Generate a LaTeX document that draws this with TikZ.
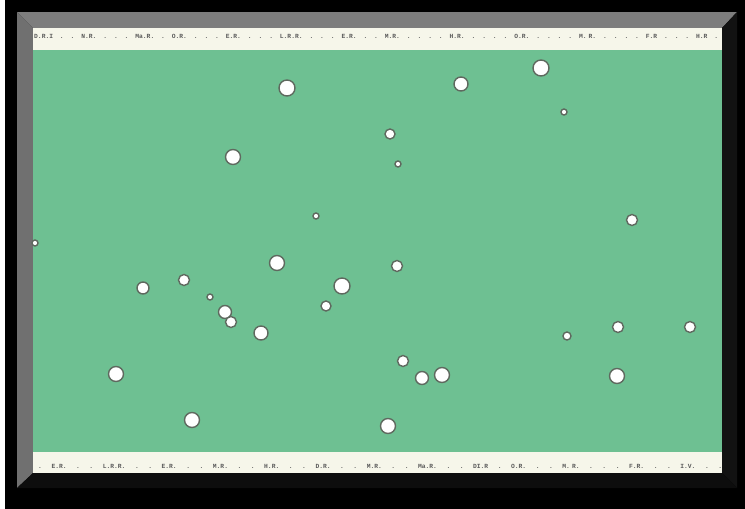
\documentclass[tikz,border=0pt]{standalone}
\usepackage{fontspec}
\setmonofont{Liberation Mono}
\definecolor{fieldgreen}{RGB}{110,192,146}
\definecolor{stripcream}{RGB}{246,246,234}
\definecolor{bevellight}{RGB}{125,125,125}
\definecolor{bevelleft}{RGB}{112,112,112}
\definecolor{beveldark}{RGB}{18,18,18}
\definecolor{txtgrey}{RGB}{90,90,90}
\definecolor{ringgrey}{RGB}{95,105,95}
\tikzset{
  hole/.style={circle, fill=white, draw=ringgrey, line width=1.4pt, inner sep=0pt},
  striplabel/.style={font=\ttfamily\bfseries\fontsize{6.3}{7}\selectfont, text=txtgrey, inner sep=0pt, anchor=west, text width=684pt, align=left}
}
\begin{document}
\begin{tikzpicture}[x=1pt,y=-1pt]
\useasboundingbox (0,0) rectangle (745,509);
\fill[black] (0,0) rectangle (745,509);
\fill[white] (0,0) rectangle (5,509);
% bevels
\fill[bevellight] (17,12) -- (737,12) -- (722,28) -- (33,28) -- cycle;
\fill[bevelleft] (17,12) -- (33,28) -- (33,473) -- (17,488) -- cycle;
\fill[beveldark] (737,12) -- (737,488) -- (722,473) -- (722,28) -- cycle;
\fill[black!95] (17,488) -- (737,488) -- (722,473) -- (33,473) -- cycle;
% strips and field
\fill[stripcream] (33,28) rectangle (722,50);
\fill[fieldgreen] (33,50) rectangle (722,452);
\fill[stripcream] (33,452) rectangle (722,473);
% labels
\node[striplabel] (toplabels) at (34,36) {D.R.I\hfill.\hfill.\hfill N.R.\hfill.\hfill.\hfill.\hfill Ma.R.\hfill.\hfill O.R.\hfill.\hfill.\hfill.\hfill E.R.\hfill.\hfill.\hfill.\hfill L.R.R.\hfill.\hfill.\hfill.\hfill E.R.\hfill.\hfill.\hfill M.R.\hfill.\hfill.\hfill.\hfill.\hfill H.R.\hfill.\hfill.\hfill.\hfill.\hfill O.R.\hfill.\hfill.\hfill.\hfill.\hfill M. R.\hfill.\hfill.\hfill.\hfill.\hfill F.R\hfill.\hfill.\hfill.\hfill H.R\hfill.};
\node[striplabel] (botlabels) at (38,466) {.\hfill E.R.\hfill.\hfill.\hfill L.R.R.\hfill.\hfill.\hfill E.R.\hfill.\hfill.\hfill M.R.\hfill.\hfill.\hfill H.R.\hfill.\hfill.\hfill D.R.\hfill.\hfill.\hfill M.R.\hfill.\hfill.\hfill Ma.R.\hfill.\hfill.\hfill DI.R\hfill.\hfill O.R.\hfill.\hfill.\hfill M. R.\hfill.\hfill.\hfill.\hfill F.R.\hfill.\hfill.\hfill I.V.\hfill.\hfill.};
% holes
\node[hole, minimum size=16pt] (h1) at (287,88) {};
\node[hole, minimum size=14pt] (h2) at (461,84) {};
\node[hole, minimum size=16pt] (h3) at (541,68) {};
\node[hole, minimum size=6pt] (h4) at (564,112) {};
\node[hole, minimum size=10pt] (h5) at (390,134) {};
\node[hole, minimum size=6pt] (h6) at (398,164) {};
\node[hole, minimum size=15pt] (h7) at (233,157) {};
\node[hole, minimum size=6pt] (h8) at (316,216) {};
\node[hole, minimum size=11pt] (h9) at (632,220) {};
\node[hole, minimum size=6pt] (h10) at (35,243) {};
\node[hole, minimum size=15pt] (h11) at (277,263) {};
\node[hole, minimum size=11pt] (h12) at (397,266) {};
\node[hole, minimum size=11pt] (h13) at (184,280) {};
\node[hole, minimum size=12pt] (h14) at (143,288) {};
\node[hole, minimum size=16pt] (h15) at (342,286) {};
\node[hole, minimum size=6pt] (h16) at (210,297) {};
\node[hole, minimum size=10pt] (h17) at (326,306) {};
\node[hole, minimum size=13pt] (h18) at (225,312) {};
\node[hole, minimum size=11pt] (h19) at (231,322) {};
\node[hole, minimum size=14pt] (h20) at (261,333) {};
\node[hole, minimum size=8pt] (h21) at (567,336) {};
\node[hole, minimum size=11pt] (h22) at (618,327) {};
\node[hole, minimum size=11pt] (h23) at (690,327) {};
\node[hole, minimum size=11pt] (h24) at (403,361) {};
\node[hole, minimum size=15pt] (h25) at (116,374) {};
\node[hole, minimum size=13pt] (h26) at (422,378) {};
\node[hole, minimum size=15pt] (h27) at (442,375) {};
\node[hole, minimum size=15pt] (h28) at (617,376) {};
\node[hole, minimum size=15pt] (h29) at (192,420) {};
\node[hole, minimum size=15pt] (h30) at (388,426) {};
\end{tikzpicture}
\end{document}
